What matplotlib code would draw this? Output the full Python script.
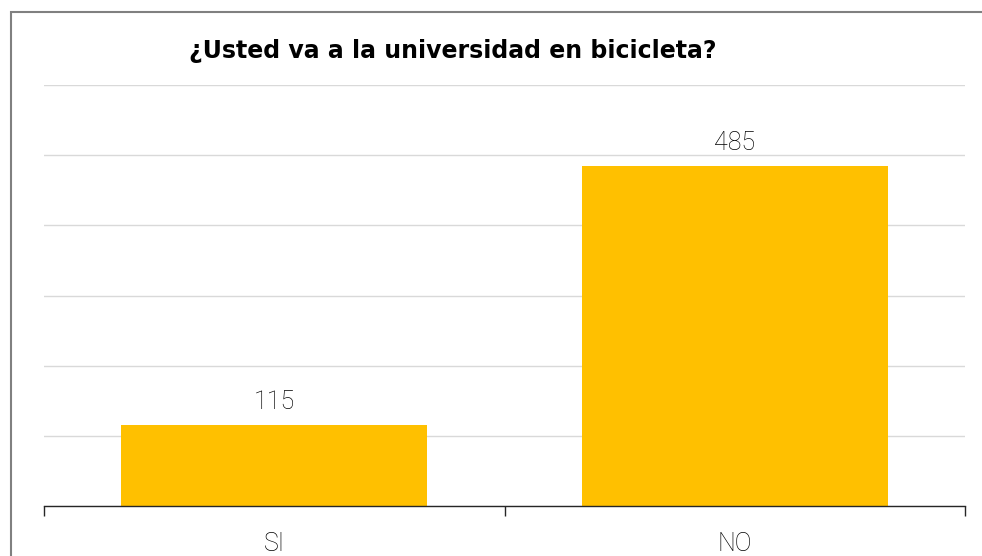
import matplotlib
matplotlib.use("Agg")
import matplotlib.pyplot as plt
from matplotlib.patches import Rectangle

# Respuestas de la encuesta
categorias = ["SI", "NO"]
respuestas = [115, 485]
titulo = "¿Usted va a la universidad en bicicleta?"

fig = plt.figure(figsize=(9.82, 5.56), dpi=100)
ax = fig.add_axes([44 / 982, 1 - 506 / 556, (965 - 44) / 982, (506 - 85) / 556])

# Marco exterior del gráfico (solo se ven los bordes izquierdo y superior)
fig.patches.append(Rectangle((11 / 982, -0.1), 1.2, 1.1 - 12 / 556,
                             transform=fig.transFigure, fill=False,
                             edgecolor="#808080", linewidth=1.5))

x = list(range(len(categorias)))
barras = ax.bar(x, respuestas, width=0.665, color="#FFC000", zorder=2)

ax.set_xlim(-0.5, len(categorias) - 0.5)
ax.set_ylim(0, 600)
ax.set_yticks(range(0, 601, 100))
ax.yaxis.grid(True, color="#d9d9d9", linewidth=1.0, zorder=0)
ax.tick_params(axis="y", length=0, labelleft=False)

for lado in ["top", "right", "left"]:
    ax.spines[lado].set_visible(False)
ax.spines["bottom"].set_color("#262626")
ax.spines["bottom"].set_linewidth(1.0)
ax.spines["bottom"].set_zorder(3)

# Marcas entre categorías y etiquetas centradas
ax.set_xticks([i - 0.5 for i in range(len(categorias) + 1)])
ax.set_xticklabels([])
ax.tick_params(axis="x", which="major", length=7, width=1.0, color="#262626", direction="out")
ax.set_xticks(x, minor=True)
ax.set_xticklabels(categorias, minor=True, fontsize=18, family="Roboto",
                   fontweight="light", color="black")
ax.tick_params(axis="x", which="minor", length=0, pad=19)

for barra, valor in zip(barras, respuestas):
    ax.annotate(str(valor), (barra.get_x() + barra.get_width() / 2, valor),
                xytext=(0, 8), textcoords="offset points", ha="center", va="bottom",
                fontsize=18, family="Roboto", fontweight="light", color="black")

fig.text(453 / 982, 1 - 51 / 556, titulo, ha="center", va="center",
         fontsize=17, fontweight="bold", family="DejaVu Sans", color="black")

fig.savefig("out.png", dpi=100, facecolor="white")
